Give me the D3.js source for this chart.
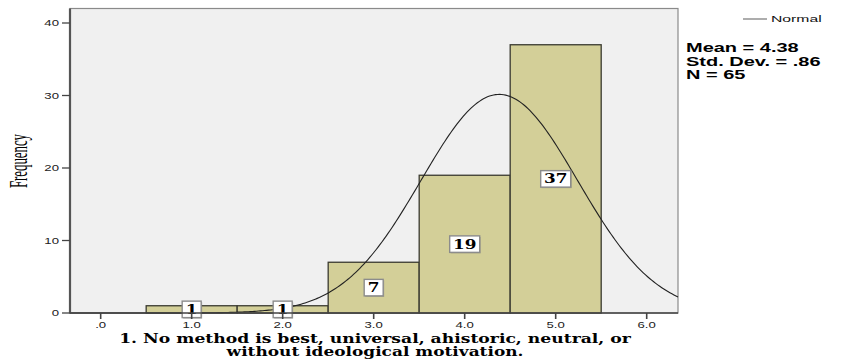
<!DOCTYPE html>
<html><head><meta charset="utf-8">
<script src="https://cdn.jsdelivr.net/npm/d3@7"></script>
<style>body{margin:0;background:#fff}svg{display:block}</style>
</head><body>
<svg id="c" width="845" height="359"></svg>
<script>
// ---- data ----
const binCenters = [1, 2, 3, 4, 5];
const counts = [1, 1, 7, 19, 37];
const statMean = 4.38;
const statSD = 0.86;
const statN = 65;
const yTicks = [0, 10, 20, 30, 40];
const xTicks = [0, 1, 2, 3, 4, 5, 6];
const xTickLabels = [".0", "1.0", "2.0", "3.0", "4.0", "5.0", "6.0"];
const statLines = ["Mean = 4.38", "Std. Dev. = .86", "N = 65"];
const xTitleLines = ["1. No method is best, universal, ahistoric, neutral, or", "without ideological motivation."];
const yTitle = "Frequency";
const legendLabel = "Normal";

// ---- layout ----
const svg = d3.select("#c");
const L = 70, R = 678, T = 8.5, B = 313;
const x = d3.scaleLinear().domain([-0.337, 6.344]).range([L, R]);
const y = d3.scaleLinear().domain([0, 42.0]).range([B, T]);
const binW = 1;

function sText(g, px, py, str, opts) {
  const t = g.append("text")
    .attr("transform", `translate(${px},${py}) scale(${opts.sx || 1},${opts.sy || 1})`)
    .attr("text-anchor", opts.anchor || "start")
    .attr("font-family", opts.family || "Liberation Sans, Arial, sans-serif")
    .attr("font-size", opts.size)
    .attr("font-weight", opts.weight || "normal")
    .attr("fill", opts.fill || "#000")
    .text(str);
  return t;
}

// plot background
svg.append("rect").attr("x", L).attr("y", T).attr("width", R - L).attr("height", B - T)
  .attr("fill", "#f0f0f0").attr("stroke", "#8a8a8a").attr("stroke-width", 1.2);

// bars
svg.append("g").selectAll("rect").data(binCenters).join("rect")
  .attr("x", (d) => x(d - binW / 2))
  .attr("y", (d, i) => y(counts[i]))
  .attr("width", (d) => x(d + binW / 2) - x(d - binW / 2))
  .attr("height", (d, i) => y(0) - y(counts[i]))
  .attr("fill", "#d3cf98").attr("stroke", "#3a3a30").attr("stroke-width", 1.3);

// normal curve
const dom = x.domain();
const pts = d3.range(0, 301).map(k => {
  const xv = dom[0] + (dom[1] - dom[0]) * k / 300;
  const z = (xv - statMean) / statSD;
  return [xv, statN * binW / (statSD * Math.sqrt(2 * Math.PI)) * Math.exp(-0.5 * z * z)];
});
svg.append("path").datum(pts)
  .attr("d", d3.line().x(d => x(d[0])).y(d => y(d[1])))
  .attr("fill", "none").attr("stroke", "#222").attr("stroke-width", 1.1);

// value labels
const lab = svg.append("g");
binCenters.forEach((c, i) => {
  const cx = x(c), cy = y(counts[i] / 2);
  const w = String(counts[i]).length > 1 ? 30 : 19;
  const h = 16.5;
  lab.append("rect").attr("x", cx - w / 2 + 1).attr("y", cy - h / 2 + 1).attr("width", w).attr("height", h)
    .attr("fill", "#777").attr("opacity", 0.5);
  lab.append("rect").attr("x", cx - w / 2).attr("y", cy - h / 2).attr("width", w).attr("height", h)
    .attr("fill", "#fff").attr("stroke", "#8c8c8c").attr("stroke-width", 1.4);
  sText(lab, cx, cy + 4.5, String(counts[i]), {sx: 1.35, size: 12.5, weight: "bold",
    family: "DejaVu Serif, serif", anchor: "middle"});
});

// axes lines
svg.append("line").attr("x1", L).attr("x2", L).attr("y1", T).attr("y2", B + 0.5)
  .attr("stroke", "#555").attr("stroke-width", 2.2);
svg.append("line").attr("x1", L).attr("x2", R).attr("y1", B).attr("y2", B)
  .attr("stroke", "#444").attr("stroke-width", 1.6);

// y ticks
const yg = svg.append("g");
yTicks.forEach(v => {
  yg.append("line").attr("x1", L - 8).attr("x2", L).attr("y1", y(v)).attr("y2", y(v))
    .attr("stroke", "#444").attr("stroke-width", 1.3);
  sText(yg, L - 11, y(v) + 3, String(v), {sx: 1.55, size: 8.5, anchor: "end", fill: "#222"});
});
// x ticks
const xg = svg.append("g");
xTicks.forEach((v, i) => {
  xg.append("line").attr("x1", x(v)).attr("x2", x(v)).attr("y1", B).attr("y2", B + 6)
    .attr("stroke", "#444").attr("stroke-width", 1.6);
  sText(xg, x(v), B + 15, xTickLabels[i], {sx: 1.55, size: 8.5, anchor: "middle", fill: "#222"});
});

// y title
svg.append("text")
  .attr("transform", `translate(27,161) rotate(-90) scale(0.64,1.3)`)
  .attr("text-anchor", "middle").attr("font-family", "Liberation Serif, Times New Roman, serif")
  .attr("font-size", 20).text(yTitle);

// x title (fit widths)
const xt = svg.append("g");
const targets = [[375, 342.5, 512], [375, 356, 297]];
xTitleLines.forEach((s, i) => {
  const t = xt.append("text").attr("text-anchor", "middle")
    .attr("font-family", "DejaVu Serif, serif").attr("font-weight", "bold").attr("font-size", 11.5)
    .text(s);
  const w = t.node().getComputedTextLength();
  const sx = targets[i][2] / w;
  t.attr("transform", `translate(${targets[i][0]},${targets[i][1]}) scale(${sx},1.05)`);
});

// legend
svg.append("line").attr("x1", 743).attr("x2", 767).attr("y1", 19).attr("y2", 19)
  .attr("stroke", "#777").attr("stroke-width", 1.2);
sText(svg, 771, 22, legendLabel, {sx: 1.85, size: 8.5, fill: "#111"});

// stats
statLines.forEach((s, i) => {
  sText(svg, 686, 52 + i * 13.5, s, {sx: 1.6, size: 12.5, weight: "bold"});
});
</script>
</body></html>
